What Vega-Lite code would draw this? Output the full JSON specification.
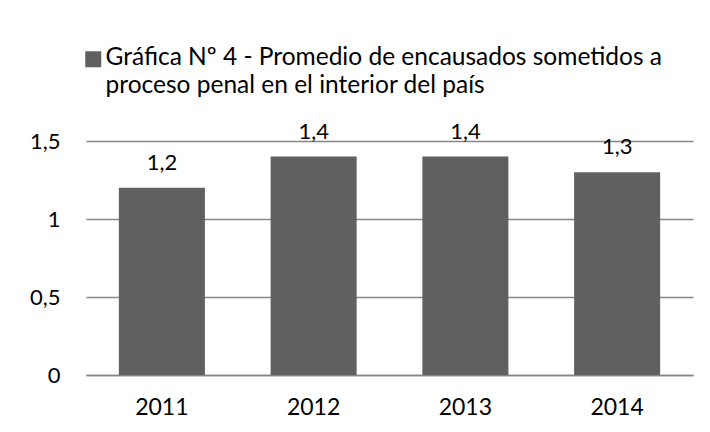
{
  "$schema": "https://vega.github.io/schema/vega-lite/v6.json",
  "autosize": {"type": "none"},
  "width": 607,
  "height": 234,
  "padding": {"left": 86, "top": 141, "right": 17, "bottom": 57},
  "background": "white",
  "config": {
    "font": "Lato",
    "view": {"stroke": null},
    "locale": {"number": {"decimal": ",", "thousands": ".", "grouping": [3], "currency": ["", " €"]}}
  },
  "data": {
    "values": [
      {"year": "2011", "value": 1.2, "serie": "Gráfica Nº 4 - Promedio de encausados sometidos a proceso penal en el interior del país"},
      {"year": "2012", "value": 1.4, "serie": "Gráfica Nº 4 - Promedio de encausados sometidos a proceso penal en el interior del país"},
      {"year": "2013", "value": 1.4, "serie": "Gráfica Nº 4 - Promedio de encausados sometidos a proceso penal en el interior del país"},
      {"year": "2014", "value": 1.3, "serie": "Gráfica Nº 4 - Promedio de encausados sometidos a proceso penal en el interior del país"}
    ]
  },
  "encoding": {
    "x": {
      "field": "year", "type": "ordinal",
      "scale": {"paddingInner": 0.433, "paddingOuter": 0.2165},
      "axis": {"title": null, "labelAngle": 0, "ticks": false, "domainColor": "#868686", "domainWidth": 1.5, "labelFontSize": 23, "labelColor": "#000000", "labelPadding": 21, "labelFont": "Lato"}
    },
    "y": {
      "field": "value", "type": "quantitative",
      "scale": {"domain": [0, 1.5]},
      "axis": {"title": null, "values": [0, 0.5, 1, 1.5], "domain": false, "ticks": false, "gridColor": "#868686", "gridWidth": 1.5, "format": "~g", "labelPadding": 26, "labelFontSize": 22, "labelColor": "#000000", "labelFont": "Lato"}
    }
  },
  "layer": [
    {
      "mark": {"type": "bar"},
      "encoding": {
        "color": {
          "field": "serie", "type": "nominal",
          "scale": {"range": ["#606060"]},
          "legend": {
            "title": null, "orient": "none", "legendX": -5, "legendY": -94,
            "symbolType": "square", "symbolSize": 256, "symbolStrokeWidth": 0,
            "labelFontSize": 24.5, "labelColor": "#000000", "labelLimit": 700, "labelOffset": 0,
            "labelFont": "Lato",
            "labelExpr": "['Gráfica Nº 4 - Promedio de encausados sometidos a', 'proceso penal en el interior del país']",
            "labelBaseline": "alphabetic",
            "encode": {"labels": {"update": {"lineHeight": {"value": 28}, "dy": {"value": 6}}}}
          }
        }
      }
    },
    {
      "mark": {"type": "text", "baseline": "alphabetic", "dy": -18, "fontSize": 22, "color": "#000000", "font": "Lato"},
      "encoding": {"text": {"field": "value", "type": "quantitative", "format": ".1f"}}
    }
  ]
}
